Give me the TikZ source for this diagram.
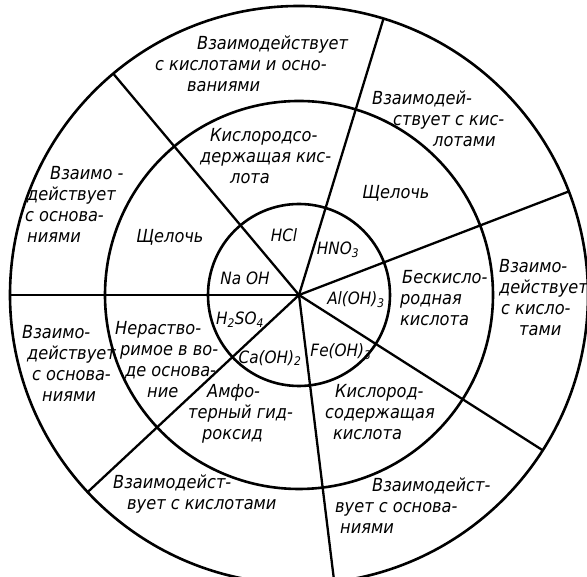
\documentclass[tikz,border=0pt]{standalone}
\usepackage{fontspec}
\setmainfont{DejaVu Sans Condensed}
\tikzset{
  kolco/.style={draw=black, line width=2.6pt},
  luch/.style={draw=black, line width=2.3pt},
  nadpis/.style={inner sep=0pt, align=left, anchor=west,
                 font=\fontsize{18}{21}\selectfont\itshape},
  formula/.style={inner sep=0pt, font=\fontsize{17}{21}\selectfont\itshape},
}
\begin{document}
\begin{tikzpicture}[x=1pt,y=1pt]
  \useasboundingbox (-299,-282) rectangle (288,295);
  \coordinate (c) at (0,0);
  % three rings
  \draw[kolco] (c) circle (91); \draw[kolco] (c) circle (194); \draw[kolco] (c) circle (289);
  % spokes
  \coordinate (s1) at (180:289); \coordinate (s2) at (130:289); \coordinate (s3) at (73:289);
  \coordinate (s4) at (21:289); \coordinate (s5) at (-32.5:289); \coordinate (s6) at (-83:289);
  \coordinate (s7) at (-137:289);
  \draw[luch] (c)--(s1); \draw[luch] (c)--(s2); \draw[luch] (c)--(s3); \draw[luch] (c)--(s4);
  \draw[luch] (c)--(s5); \draw[luch] (c)--(s6); \draw[luch] (c)--(s7);
  % inner ring: substances
  \node[formula] (hcl) at (-15,60) {HCl};
  \node[formula] (hno) at (39,45) {HNO\textsubscript{3}};
  \node[formula] (alo) at (57,-5) {Al(OH)\textsubscript{3}};
  \node[formula] (feo) at (42,-57) {Fe(OH)\textsubscript{3}};
  \node[formula] (cao) at (-29,-63) {Ca(OH)\textsubscript{2}};
  \node[formula] (hso) at (-59,-25) {H\textsubscript{2}SO\textsubscript{4}};
  \node[formula] (nao) at (-54,17) {Na OH};
  % middle ring: classes
  \node[nadpis] (kisl1) at (-99,138.5) {\hspace*{10pt}Кислородсо-\\держащая кис-\\\hspace*{30pt}лота};
  \node[nadpis, anchor=center] (shch1) at (97,102) {Щелочь};
  \node[nadpis] (beskisl) at (101,-3.5) {\hspace*{2pt}Бескисло-\\родная\\кислота};
  \node[nadpis] (kisl2) at (26,-117.5) {\hspace*{10pt}Кислород-\\содержащая\\\hspace*{8pt}кислота};
  \node[nadpis] (amfo) at (-111,-119) {\hspace*{19pt}Амфо-\\терный гид-\\\hspace*{14pt}роксид};
  \node[nadpis] (nerastv) at (-184,-64.5) {Нераство-\\\hspace*{5pt}римое в во-\\\hspace*{10pt}де основа-\\\hspace*{32pt}ние};
  \node[nadpis, anchor=center] (shch2) at (-129,58) {Щелочь};
  % outer ring: reactions
  \node[nadpis] (vz1) at (-144,231) {\hspace*{42pt}Взаимодействует\\с кислотами и осно-\\\hspace*{32pt}ваниями};
  \node[nadpis] (vz2) at (73,176.5) {Взаимодей-\\\hspace*{21pt}ствует с кис-\\\hspace*{61pt}лотами};
  \node[nadpis] (vz3) at (200,-3) {Взаимо-\\действует\\\hspace*{2pt}с кисло-\\\hspace*{20pt}тами};
  \node[nadpis] (vz4) at (36,-210.5) {\hspace*{37pt}Взаимодейст-\\вует с основа-\\\hspace*{5pt}ниями};
  \node[nadpis] (vz5) at (-186,-199) {Взаимодейст-\\\hspace*{14pt}вует с кислотами};
  \node[nadpis] (vz6) at (-277,-68.5) {Взаимо-\\\hspace*{5pt}действует\\\hspace*{10pt}с основа-\\\hspace*{20pt}ниями};
  \node[nadpis] (vz7) at (-274,90.5) {\hspace*{25pt}Взаимо -\\\hspace*{2pt}действует\\с основа-\\\hspace*{2pt}ниями};
\end{tikzpicture}
\end{document}
